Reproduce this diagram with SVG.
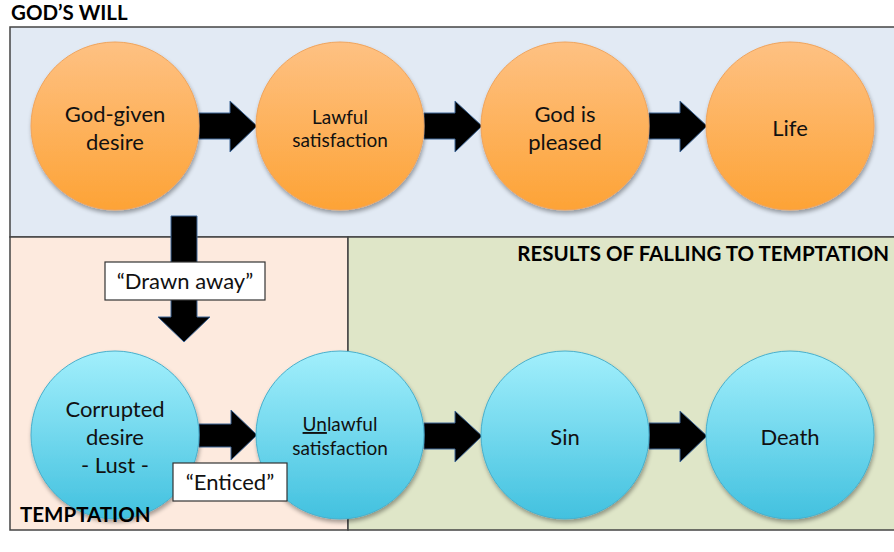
<svg xmlns="http://www.w3.org/2000/svg" width="894" height="552" viewBox="0 0 894 552">
<defs>
<linearGradient id="gOrange" x1="0" y1="0" x2="0" y2="1">
<stop offset="0" stop-color="#fec183"/>
<stop offset="1" stop-color="#fda336"/>
</linearGradient>
<linearGradient id="gBlue" x1="0" y1="0" x2="0" y2="1">
<stop offset="0" stop-color="#a2effc"/>
<stop offset="1" stop-color="#42c1df"/>
</linearGradient>
<filter id="sh" x="-20%" y="-20%" width="140%" height="140%">
<feGaussianBlur in="SourceAlpha" stdDeviation="2"/>
<feOffset dx="1" dy="3" result="b"/>
<feComponentTransfer><feFuncA type="linear" slope="0.35"/></feComponentTransfer>
<feMerge><feMergeNode/><feMergeNode in="SourceGraphic"/></feMerge>
</filter>
<path id="harrow" d="M0,-13 H31 V-25 L58,0 L31,26 V13 H0 Z"/>
</defs>
<style>
text{font-family:Lato,"Open Sans","Liberation Sans",sans-serif;fill:#111;}
.big{font-size:22px;text-anchor:middle;}
.sm{font-size:19px;text-anchor:middle;}
.hd{font-size:20.5px;font-weight:bold;fill:#000;}
.or{fill:url(#gOrange);stroke:#f0a45c;stroke-width:1;filter:url(#sh);}
.bl{fill:url(#gBlue);stroke:#48afcc;stroke-width:1;filter:url(#sh);}
.arr{fill:#000;stroke:#3e6797;stroke-width:1;}
.lbl{fill:#fff;stroke:#333;stroke-width:1.2;}
.panel{stroke:#444;stroke-width:1.5;}
</style>
<rect width="894" height="552" fill="#fff"/>
<g id="panels">
<rect class="panel" x="10" y="27" width="890" height="210" fill="#e2eaf4"/>
<rect class="panel" x="10" y="237" width="338" height="293" fill="#fdeade"/>
<rect class="panel" x="348" y="237" width="552" height="293" fill="#dfe6c8"/>
</g>
<text class="hd" x="11" y="20">GOD’S WILL</text>
<text class="hd" x="889" y="261" text-anchor="end">RESULTS OF FALLING TO TEMPTATION</text>
<g id="connectors">
<use href="#harrow" class="arr" x="199" y="126"/>
<use href="#harrow" class="arr" x="424" y="126"/>
<use href="#harrow" class="arr" x="649" y="126"/>
<path class="arr" d="M199,424 H231 V410 L257,435 L231,460 V447 H199 Z"/>
<use href="#harrow" class="arr" x="424" y="436"/>
<use href="#harrow" class="arr" x="649" y="436"/>
<path class="arr" d="M171,216 H197 V317 H210 L184,342 L158,317 H171 Z"/>
</g>
<g id="n1"><circle class="or" cx="115" cy="126" r="84"/><text class="big" x="115" y="122">God-given</text><text class="big" x="115" y="150">desire</text></g>
<g id="n2"><circle class="or" cx="340" cy="126" r="84"/><text class="sm" x="340" y="124">Lawful</text><text class="sm" x="340" y="147">satisfaction</text></g>
<g id="n3"><circle class="or" cx="565" cy="126" r="84"/><text class="big" x="565" y="122">God is</text><text class="big" x="565" y="150">pleased</text></g>
<g id="n4"><circle class="or" cx="790" cy="126" r="84"/><text class="big" x="790" y="136">Life</text></g>
<g id="n5"><circle class="bl" cx="115" cy="435" r="84"/><text class="big" x="115" y="417">Corrupted</text><text class="big" x="115" y="445">desire</text><text class="big" x="115" y="473">- Lust -</text></g>
<g id="n6"><circle class="bl" cx="340" cy="435" r="84"/><text class="sm" x="340" y="431"><tspan text-decoration="underline">Un</tspan>lawful</text><text class="sm" x="340" y="455">satisfaction</text></g>
<g id="n7"><circle class="bl" cx="565" cy="435" r="84"/><text class="big" x="565" y="445">Sin</text></g>
<g id="n8"><circle class="bl" cx="790" cy="435" r="84"/><text class="big" x="790" y="445">Death</text></g>
<g id="l1"><rect class="lbl" x="105" y="262" width="160" height="38"/><text class="big" x="185" y="289">“Drawn away”</text></g>
<g id="l2"><rect class="lbl" x="173" y="463" width="114" height="38"/><text class="big" x="230" y="490">“Enticed”</text></g>
<text class="hd" x="20" y="522">TEMPTATION</text>
</svg>
